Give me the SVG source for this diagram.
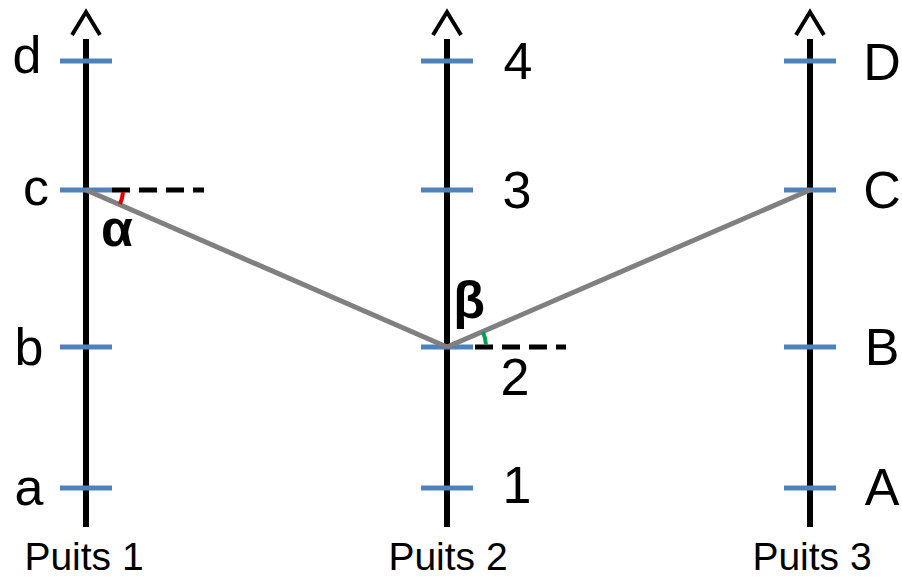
<svg xmlns="http://www.w3.org/2000/svg" width="902" height="577" viewBox="0 0 902 577">
<style>
.axis{stroke:#000;stroke-width:6;fill:none}
.head{stroke:#000;stroke-width:4;fill:none;stroke-linejoin:miter}
.tick{stroke:#4f81bd;stroke-width:5}
.link{stroke:#808080;stroke-width:5;fill:none}
.dash{stroke:#000;stroke-width:5;stroke-dasharray:18 9}
.lbl{font-family:"Liberation Sans",Arial,sans-serif;font-size:52px;fill:#000;text-anchor:middle}
.well{font-family:"Liberation Sans",Arial,sans-serif;font-size:39px;fill:#000;text-anchor:middle}
.greek{font-family:"Liberation Sans",Arial,sans-serif;font-size:52px;font-weight:bold;fill:#000;text-anchor:middle}
</style>
<rect width="902" height="577" fill="#fff"/>
<g id="well1">
<line class="axis" x1="86" y1="39" x2="86" y2="527"/>
<polyline class="head" points="72,35 86,12 100,35"/>
<line class="tick" x1="60" y1="61" x2="112" y2="61"/>
<line class="tick" x1="60" y1="190" x2="112" y2="190"/>
<line class="tick" x1="60" y1="347" x2="112" y2="347"/>
<line class="tick" x1="60" y1="488" x2="112" y2="488"/>
<text class="lbl" x="27" y="73">d</text>
<text class="lbl" x="36" y="205">c</text>
<text class="lbl" x="29" y="365">b</text>
<text class="lbl" x="29" y="505">a</text>
<text class="well" x="84" y="570">Puits 1</text>
</g>
<g id="well2">
<line class="axis" x1="447" y1="39" x2="447" y2="527"/>
<polyline class="head" points="433,35 447,12 461,35"/>
<line class="tick" x1="421" y1="61" x2="473" y2="61"/>
<line class="tick" x1="421" y1="190" x2="473" y2="190"/>
<line class="tick" x1="421" y1="347" x2="473" y2="347"/>
<line class="tick" x1="421" y1="488" x2="473" y2="488"/>
<text class="lbl" x="518" y="79">4</text>
<text class="lbl" x="517" y="208">3</text>
<text class="lbl" x="515" y="395">2</text>
<text class="lbl" x="517" y="503">1</text>
<text class="well" x="448" y="570">Puits 2</text>
</g>
<g id="well3">
<line class="axis" x1="810" y1="39" x2="810" y2="527"/>
<polyline class="head" points="796,35 810,12 824,35"/>
<line class="tick" x1="784" y1="61" x2="836" y2="61"/>
<line class="tick" x1="784" y1="190" x2="836" y2="190"/>
<line class="tick" x1="784" y1="347" x2="836" y2="347"/>
<line class="tick" x1="784" y1="488" x2="836" y2="488"/>
<text class="lbl" x="882" y="80">D</text>
<text class="lbl" x="882" y="208">C</text>
<text class="lbl" x="882" y="365">B</text>
<text class="lbl" x="882" y="505">A</text>
<text class="well" x="812" y="570">Puits 3</text>
</g>
<g id="connectors">
<line class="dash" x1="112" y1="190" x2="204" y2="190"/>
<line class="dash" x1="475" y1="347" x2="566" y2="347"/>
<line class="link" x1="86" y1="190" x2="447" y2="347"/>
<line class="link" x1="447" y1="347" x2="810" y2="190"/>
<path d="M123,192 A37,37 0 0 1 120,204" stroke="#e00000" stroke-width="4" fill="none"/>
<path d="M486,345 A39,39 0 0 0 483,332" stroke="#00a050" stroke-width="4" fill="none"/>
</g>
<g id="angles">
<text class="greek" x="117" y="246">α</text>
<text class="greek" x="469" y="318">β</text>
</g>
</svg>
